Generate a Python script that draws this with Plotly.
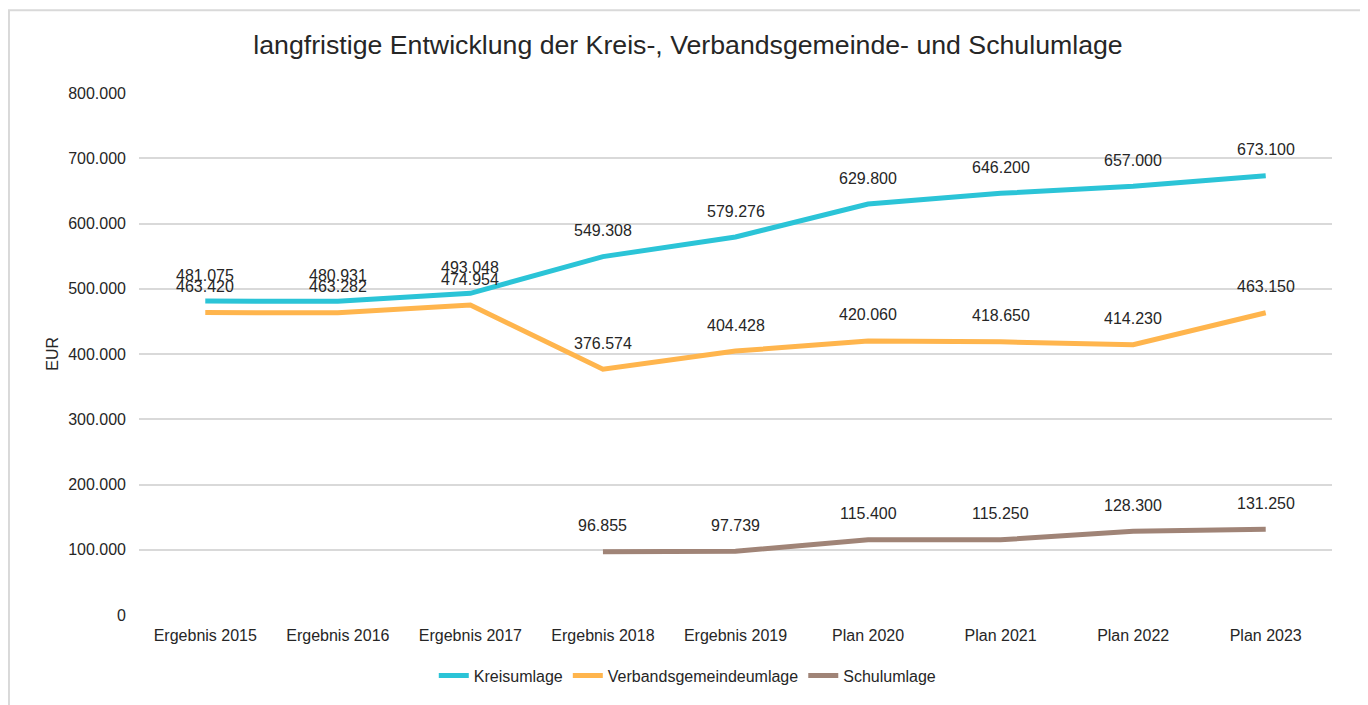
import plotly.graph_objects as go

# Kategorien und Werte (EUR)
jahre = ["Ergebnis 2015", "Ergebnis 2016", "Ergebnis 2017", "Ergebnis 2018", "Ergebnis 2019",
         "Plan 2020", "Plan 2021", "Plan 2022", "Plan 2023"]
kreisumlage = [481075, 480931, 493048, 549308, 579276, 629800, 646200, 657000, 673100]
vg_umlage = [463420, 463282, 474954, 376574, 404428, 420060, 418650, 414230, 463150]
schulumlage = [None, None, None, 96855, 97739, 115400, 115250, 128300, 131250]
y_ticks = [0, 100000, 200000, 300000, 400000, 500000, 600000, 700000, 800000]


def de(v):
    return f"{v:,.0f}".replace(",", ".")


serien = [
    ("Kreisumlage", kreisumlage, "#2bc4d7"),
    ("Verbandsgemeindeumlage", vg_umlage, "#ffb54d"),
    ("Schulumlage", schulumlage, "#a08477"),
]

fig = go.Figure()
for name, werte, farbe in serien:
    fig.add_trace(go.Scatter(
        x=jahre, y=werte, name=name, mode="lines",
        line=dict(color=farbe, width=5),
        hoverinfo="skip",
    ))
    # Datenbeschriftung oberhalb der Punkte
    for x, v in zip(jahre, werte):
        if v is None:
            continue
        fig.add_annotation(x=x, y=v, text=de(v), showarrow=False, yshift=26,
                           font=dict(size=16, color="#262626"))

# die Seite hat 8px Rand, daher etwas kleiner / verschoben
fig.update_layout(
    width=1360, height=697,
    paper_bgcolor="white", plot_bgcolor="white",
    font=dict(family="Liberation Sans, Arial", size=16, color="#262626"),
    title=dict(text="langfristige Entwicklung der Kreis-, Verbandsgemeinde- und Schulumlage",
               x=0.5, xanchor="center", y=0.947, yanchor="middle",
               font=dict(size=26.7, color="#262626")),
    margin=dict(l=131, r=36, t=85, b=88),
    showlegend=True,
    legend=dict(orientation="h", x=0.46, xanchor="center", y=-0.116, yanchor="middle",
                font=dict(size=16)),
)
fig.update_xaxes(range=[-0.5, 8.5], showgrid=False, showline=False, ticks="",
                 tickfont=dict(size=16), ticklabelstandoff=9, automargin=False)
fig.update_yaxes(range=[0, 800000], tickvals=y_ticks, ticktext=[de(t) for t in y_ticks],
                 showgrid=True, gridcolor="#d9d9d9", gridwidth=1.5, zeroline=False,
                 showline=False, ticks="", ticklabelstandoff=12, tickfont=dict(size=16),
                 automargin=False)

fig.add_annotation(text="EUR", xref="paper", yref="paper", x=-0.082, y=0.5,
                   textangle=-90, showarrow=False, font=dict(size=16))

# Rahmen um das Diagramm
fig.add_shape(type="rect", xref="paper", yref="paper",
              x0=-0.109, x1=1.0247, y0=-0.2, y1=1.1584,
              line=dict(color="#d9d9d9", width=2), layer="below")

fig.write_html("out.html")
